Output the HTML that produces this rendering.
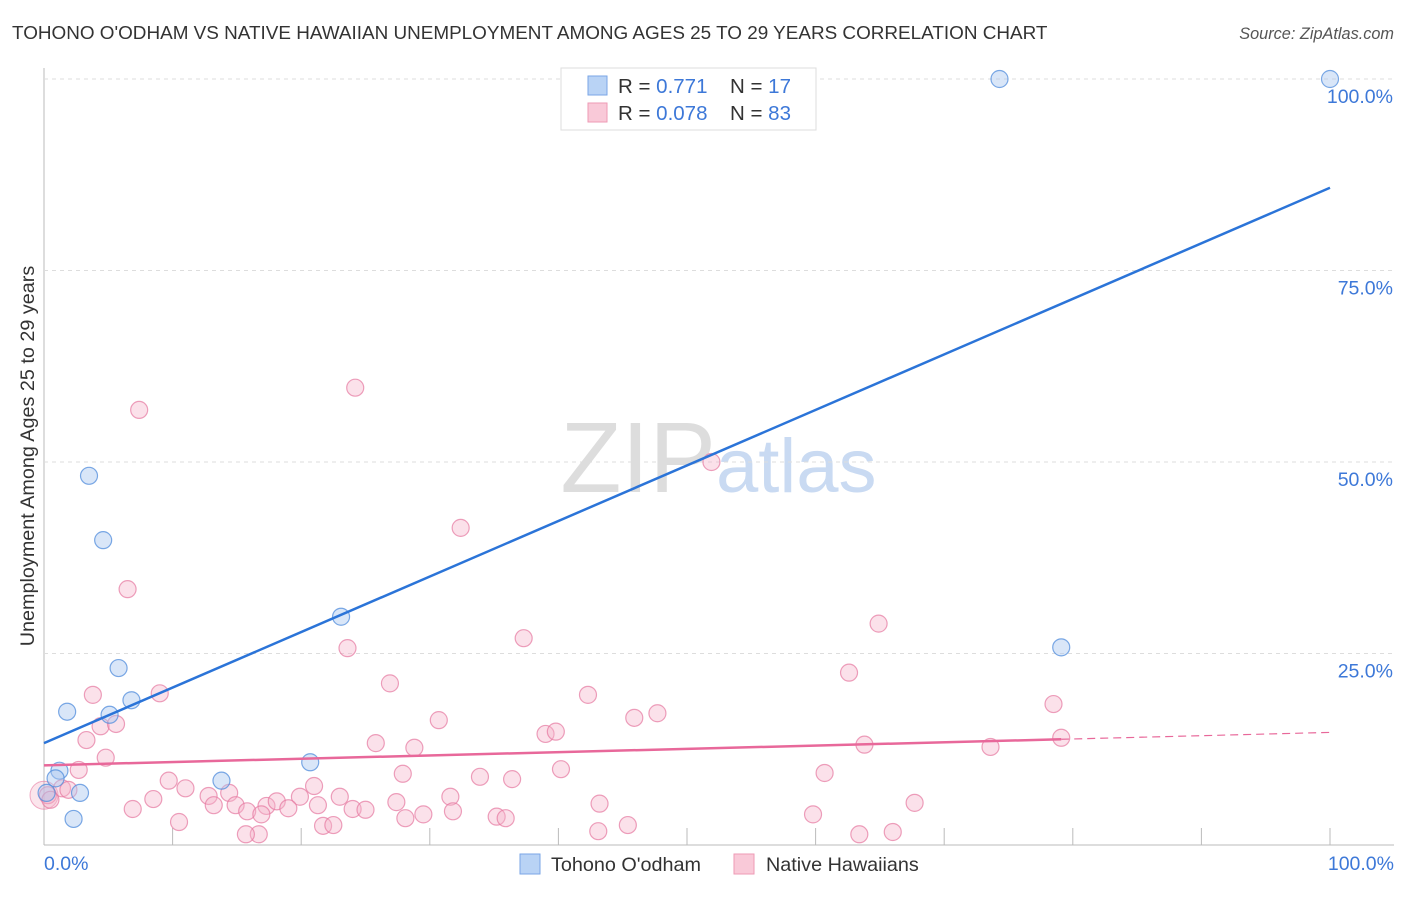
<!DOCTYPE html>
<html><head><meta charset="utf-8"><style>
body{margin:0;background:#fff;font-family:"Liberation Sans",sans-serif}
svg text{font-family:"Liberation Sans",sans-serif}
</style></head><body>
<svg id="c" width="1406" height="892">
<text x="12" y="39" font-size="18.9" fill="#333">TOHONO O'ODHAM VS NATIVE HAWAIIAN UNEMPLOYMENT AMONG AGES 25 TO 29 YEARS CORRELATION CHART</text>
<text x="1394" y="39" font-size="16.3" fill="#555" font-style="italic" text-anchor="end">Source: ZipAtlas.com</text>
<text x="716" y="492" font-size="100" fill="#ddd" text-anchor="end" font-family="Liberation Serif">ZIP</text>
<text x="716" y="492" font-size="76" fill="#c9daf2">atlas</text>
<g id="grid"></g><g id="marks"></g>
<text transform="translate(34,456) rotate(-90)" font-size="19.8" fill="#333" text-anchor="middle">Unemployment Among Ages 25 to 29 years</text>
<text x="44" y="870" font-size="19.5" fill="#3d78d8">0.0%</text>
<text x="1394" y="870" font-size="19.5" fill="#3d78d8" text-anchor="end">100.0%</text>
<g>
<rect x="561" y="68" width="255" height="62" fill="#fff" stroke="#ddd"/>
<rect x="588" y="76" width="19" height="19" fill="#b9d3f5" stroke="#7aa6e6"/>
<rect x="588" y="103" width="19" height="19" fill="#f9c9d8" stroke="#ee9ab5"/>
<text x="618" y="93" font-size="20.5" fill="#333">R = <tspan fill="#3d78d8">0.771</tspan></text>
<text x="730" y="93" font-size="20.5" fill="#333">N = <tspan fill="#3d78d8">17</tspan></text>
<text x="618" y="120" font-size="20.5" fill="#333">R = <tspan fill="#3d78d8">0.078</tspan></text>
<text x="730" y="120" font-size="20.5" fill="#333">N = <tspan fill="#3d78d8">83</tspan></text>
</g>
<g>
<rect x="520" y="854" width="20" height="20" fill="#b9d3f5" stroke="#7aa6e6"/>
<text x="551" y="871" font-size="19.8" fill="#333">Tohono O'odham</text>
<rect x="734" y="854" width="20" height="20" fill="#f9c9d8" stroke="#ee9ab5"/>
<text x="766" y="871" font-size="19.8" fill="#333">Native Hawaiians</text>
</g>
</svg>
<script>
const yTicks=[25,50,75,100];
const yTickLabels=["25.0%","50.0%","75.0%","100.0%"];
const xTicks=[10,20,30,40,50,60,70,80,90,100];
const blueX=[74.3,100,3.5,4.6,23.1,5.8,79.1,6.8,1.8,5.1,20.7,1.2,0.9,13.8,2.8,2.3,0.2];
const blueY=[100,100,48.2,39.8,29.8,23.1,25.8,18.9,17.4,17.0,10.8,9.7,8.7,8.4,6.8,3.4,6.8];
const pinkX=[7.4,24.2,51.9,32.4,6.5,64.9,23.6,37.3,62.6,26.9,3.8,9.0,42.3,78.5,47.7,45.9,30.7,4.4,5.6,39.0,39.8,3.3,25.8,28.8,63.8,73.6,79.1,4.8,2.7,1.4,1.9,40.2,27.9,33.9,36.4,60.7,9.7,11.0,8.5,6.9,10.5,12.8,14.4,13.2,14.9,17.3,18.1,19.9,19.0,15.8,16.9,21.0,21.3,23.0,24.0,25.0,27.4,29.5,28.1,31.6,31.8,35.2,35.9,43.2,67.7,16.7,15.7,21.7,22.5,59.8,43.1,45.4,63.4,66.0,0.3,0.5];
const pinkY=[56.8,59.7,50.0,41.4,33.4,28.9,25.7,27.0,22.5,21.1,19.6,19.8,19.6,18.4,17.2,16.6,16.3,15.5,15.8,14.5,14.8,13.7,13.3,12.7,13.1,12.8,14.0,11.4,9.8,7.4,7.2,9.9,9.3,8.9,8.6,9.4,8.4,7.4,6.0,4.7,3.0,6.4,6.8,5.2,5.2,5.1,5.7,6.3,4.8,4.4,4.0,7.7,5.2,6.3,4.7,4.6,5.6,4.0,3.5,6.3,4.4,3.7,3.5,5.4,5.5,1.4,1.4,2.5,2.6,4.0,1.8,2.6,1.4,1.7,6.5,5.9];
const blueFit=[13.3,85.8];
const pinkFit=[10.4,14.7];
const pinkSolidEnd=79.1;
const X=v=>44+v*12.86, Y=v=>845-v*7.66;
const NS="http://www.w3.org/2000/svg";
const grid=document.getElementById('grid'), marks=document.getElementById('marks');
function mk(tag,attrs,parent){const e=document.createElementNS(NS,tag);for(const k in attrs)e.setAttribute(k,attrs[k]);parent.appendChild(e);return e;}
let ax=mk('line',{x1:44,y1:68,x2:44,y2:845,stroke:'#bbb'},grid);


let bx=mk('line',{x1:44,y1:845,x2:1394,y2:845,stroke:'#bbb'},grid);


yTicks.forEach((t,i)=>{
 let g=mk('line',{x1:44,x2:1394,y1:Y(t),y2:Y(t),stroke:'#ddd','stroke-dasharray':'4,4'},grid);
 
 
 let l=mk('text',{x:1393,y:Y(t)+24,'font-size':19.5,fill:'#3d78d8','text-anchor':'end'},grid);
 l.textContent=yTickLabels[i];
 
 
});
xTicks.forEach(t=>{
 let k=mk('line',{x1:X(t),x2:X(t),y1:828,y2:845,stroke:'#bbb'},grid);
 
 
});
let big=mk('circle',{cx:X(0),cy:Y(6.5),r:14,fill:'rgba(240,150,180,0.25)',stroke:'rgba(230,120,160,0.6)'},marks);


pinkX.forEach((x,i)=>{
 let c=mk('circle',{cx:X(x),cy:Y(pinkY[i]),r:8.5,fill:'rgba(246,180,202,0.4)',stroke:'rgba(230,120,160,0.7)','stroke-width':1.2},marks);
 
 
});
blueX.forEach((x,i)=>{
 let c=mk('circle',{cx:X(x),cy:Y(blueY[i]),r:8.5,fill:'rgba(170,200,240,0.45)',stroke:'rgba(80,140,220,0.75)','stroke-width':1.2},marks);
 
 
});
const pf=v=>pinkFit[0]+(pinkFit[1]-pinkFit[0])*v/100;
let p1=mk('line',{x1:X(0),y1:Y(pf(0)),x2:X(pinkSolidEnd),y2:Y(pf(pinkSolidEnd)),stroke:'#e8689a','stroke-width':2.5},marks);


let p2=mk('line',{x1:X(pinkSolidEnd),y1:Y(pf(pinkSolidEnd)),x2:X(100),y2:Y(pf(100)),stroke:'#e8689a','stroke-width':1.2,'stroke-dasharray':'8,5'},marks);


let b1=mk('line',{x1:X(0),y1:Y(blueFit[0]),x2:X(100),y2:Y(blueFit[1]),stroke:'#2b74d8','stroke-width':2.5},marks);


</script>
</body></html>
